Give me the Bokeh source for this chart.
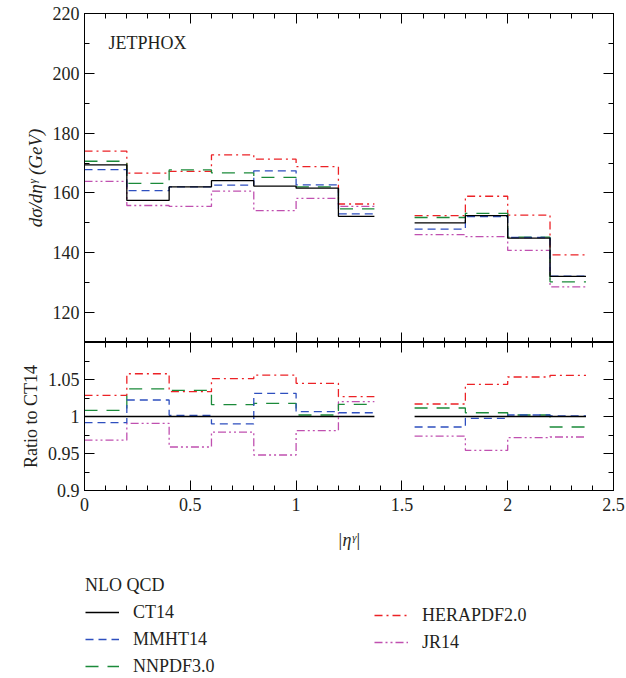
from bokeh.plotting import figure
from bokeh.models import (LinearAxis, FixedTicker, CustomJSTickFormatter, Range1d,
                          Label, Legend, LegendItem)
from bokeh.layouts import column
from bokeh.embed import file_html
from bokeh.resources import INLINE

# ---------------- data ----------------
bin_lo = [0.0, 0.2, 0.4, 0.6, 0.8, 1.0, 1.2, 1.56, 1.8, 2.0, 2.2]
bin_hi = [0.2, 0.4, 0.6, 0.8, 1.0, 1.2, 1.37, 1.8, 2.0, 2.2, 2.37]

series_names = ["CT14", "MMHT14", "NNPDF3.0", "HERAPDF2.0", "JR14"]

xsec_ct14 = [169.4, 157.5, 162.0, 164.1, 162.3, 161.6, 152.2, 150.0, 152.4, 144.9, 132.1]
xsec_mmht14 = [167.8, 160.8, 162.0, 162.6, 167.4, 162.7, 153.0, 147.9, 152.1, 145.1, 132.2]
xsec_nnpdf30 = [170.6, 163.2, 167.7, 166.7, 165.2, 162.0, 154.7, 151.8, 153.2, 145.2, 130.3]
xsec_herapdf20 = [174.0, 166.6, 167.2, 172.7, 171.3, 168.8, 156.3, 152.4, 158.9, 152.6, 139.3]
xsec_jr14 = [163.9, 155.8, 155.5, 160.6, 154.1, 158.2, 155.5, 146.1, 145.4, 140.8, 128.6]

ratio_ct14 = [1.0, 1.0, 1.0, 1.0, 1.0, 1.0, 1.0, 1.0, 1.0, 1.0, 1.0]
ratio_mmht14 = [0.9916, 1.0223, 1.0016, 0.9899, 1.0313, 1.0065, 1.0051, 0.9858, 0.9976, 1.002, 1.0007]
ratio_nnpdf30 = [1.0084, 1.0372, 1.0354, 1.016, 1.0178, 1.002, 1.0165, 1.0115, 1.0051, 1.002, 0.9858]
ratio_herapdf20 = [1.0286, 1.0578, 1.0335, 1.0511, 1.056, 1.0448, 1.0268, 1.0169, 1.0435, 1.0534, 1.0557]
ratio_jr14 = [0.968, 0.9908, 0.9588, 0.979, 0.948, 0.9808, 1.02, 0.9736, 0.9543, 0.9714, 0.9723]

top_yticks = [120, 140, 160, 180, 200, 220]
top_yminor = [110, 130, 150, 170, 190, 210]
bot_yticks = [0.9, 0.95, 1.0, 1.05]
bot_yminor = [0.925, 0.975, 1.025, 1.075]
x_ticks = [0, 0.5, 1, 1.5, 2, 2.5]
x_minor = [i / 10 for i in range(26)]

# ---------------- styles ----------------
FONT = "Liberation Serif"
FS = "18px"
TXT = "#231f20"
styles = {
    "CT14": dict(color="#000000", dash="solid", width=1.3),
    "MMHT14": dict(color="#2e4fbf", dash="8 5", width=1.3),
    "NNPDF3.0": dict(color="#1b8a3a", dash="13 9", width=1.3),
    "HERAPDF2.0": dict(color="#ec2226", dash="8 4 2 4", width=1.3),
    "JR14": dict(color="#c050b0", dash="8 3 2 3 2 3", width=1.3),
}


def step_path(lo, hi, vals):
    xs, ys = [], []
    for i, v in enumerate(vals):
        if i > 0 and abs(lo[i] - hi[i - 1]) > 1e-9:
            xs.append(float("nan"))
            ys.append(float("nan"))
        xs += [lo[i], hi[i]]
        ys += [v, v]
    return xs, ys


fmt = CustomJSTickFormatter(code="return Number(tick.toFixed(3)).toString();")
blank_fmt = CustomJSTickFormatter(code="return '';")


def make_axis(kind, ticks, minor, labels):
    ax = LinearAxis(ticker=FixedTicker(ticks=ticks, minor_ticks=minor),
                    formatter=fmt if labels else blank_fmt)
    ax.major_tick_in = 10
    ax.major_tick_out = 0
    ax.minor_tick_in = 5
    ax.minor_tick_out = 0
    ax.axis_line_color = "black"
    ax.major_tick_line_color = "black"
    ax.minor_tick_line_color = "black"
    ax.major_label_text_font = FONT
    ax.major_label_text_font_size = FS
    ax.major_label_text_color = TXT
    if not labels:
        ax.major_label_text_font_size = "0px"
        ax.major_label_standoff = 0
    else:
        ax.major_label_standoff = 5 if kind == "y" else 7
    return ax


def base_fig(height, xr, yr, bl, br, bt, bb):
    p = figure(width=626, height=height, x_range=xr, y_range=yr,
               output_backend="svg", toolbar_location=None,
               x_axis_location=None, y_axis_location=None,
               min_border_left=bl, min_border_right=br,
               min_border_top=bt, min_border_bottom=bb)
    p.outline_line_color = "black"
    p.outline_line_width = 1
    p.background_fill_color = "white"
    p.border_fill_color = "white"
    p.grid.grid_line_color = None
    return p


series_xsec = [xsec_ct14, xsec_mmht14, xsec_nnpdf30, xsec_herapdf20, xsec_jr14]
series_ratio = [ratio_ct14, ratio_mmht14, ratio_nnpdf30, ratio_herapdf20, ratio_jr14]
draw_order = [3, 4, 2, 1, 0]

# ---------------- top panel ----------------
p1 = base_fig(342, Range1d(0, 2.5), Range1d(110, 220), 84, 13, 13, 0)
yl1 = make_axis("y", top_yticks, top_yminor, True)
yl1.axis_label = "dσ/dηᵞ (GeV)"
yl1.axis_label_text_font = FONT
yl1.axis_label_text_font_size = "19px"
yl1.axis_label_text_font_style = "italic"
yl1.axis_label_text_color = TXT
yl1.axis_label_standoff = 4
p1.add_layout(yl1, "left")
p1.add_layout(make_axis("y", top_yticks, top_yminor, False), "right")
p1.add_layout(make_axis("x", x_ticks, x_minor, False), "below")
p1.add_layout(make_axis("x", x_ticks, x_minor, False), "above")

for i in draw_order:
    st = styles[series_names[i]]
    xs, ys = step_path(bin_lo, bin_hi, series_xsec[i])
    p1.line(xs, ys, line_color=st["color"], line_dash=st["dash"], line_width=st["width"])

p1.add_layout(Label(x=0.113, y=210.3, text="JETPHOX", text_font=FONT, text_font_size=FS,
                    text_color=TXT, text_baseline="middle", text_align="left"))

# ---------------- ratio panel ----------------
p2 = base_fig(218, Range1d(0, 2.5), Range1d(0.9, 1.1), 84, 13, 0, 70)
yl = make_axis("y", bot_yticks, bot_yminor, True)
yl.axis_label = "Ratio to CT14"
yl.axis_label_text_font = FONT
yl.axis_label_text_font_size = FS
yl.axis_label_text_font_style = "normal"
yl.axis_label_text_color = TXT
yl.axis_label_standoff = 4
p2.add_layout(yl, "left")
p2.add_layout(make_axis("y", bot_yticks, bot_yminor, False), "right")
xb = make_axis("x", x_ticks, x_minor, True)
xb.axis_label = "|ηᵞ|"
xb.axis_label_text_font = FONT
xb.axis_label_text_font_size = FS
xb.axis_label_text_font_style = "italic"
xb.axis_label_text_color = TXT
xb.axis_label_standoff = 16
p2.add_layout(xb, "below")
p2.add_layout(make_axis("x", x_ticks, x_minor, False), "above")

for i in draw_order:
    st = styles[series_names[i]]
    xs, ys = step_path(bin_lo, bin_hi, series_ratio[i])
    p2.line(xs, ys, line_color=st["color"], line_dash=st["dash"], line_width=st["width"])

# ---------------- legend panel ----------------
# renderers for the legend keys: the ratio series, kept outside this panel's visible range
p3 = figure(width=626, height=118, x_range=Range1d(0, 2.5), y_range=Range1d(0, 0.5),
            output_backend="svg", toolbar_location=None,
            x_axis_location=None, y_axis_location=None, min_border=0)
p3.outline_line_color = None
p3.grid.grid_line_color = None
p3.background_fill_color = "white"
p3.border_fill_color = "white"

leg_rends = {}
for i, name in enumerate(series_names):
    st = styles[name]
    xs, ys = step_path(bin_lo, bin_hi, series_ratio[i])
    leg_rends[name] = p3.line(xs, ys, line_color=st["color"], line_dash=st["dash"],
                              line_width=st["width"])


def style_legend(lg):
    lg.label_text_font = FONT
    lg.label_text_font_size = FS
    lg.label_text_color = TXT
    lg.title_text_font = FONT
    lg.title_text_font_size = FS
    lg.title_text_font_style = "normal"
    lg.title_text_color = TXT
    lg.title_standoff = 4
    lg.glyph_width = 34
    lg.glyph_height = 24
    lg.label_height = 24
    lg.label_standoff = 14
    lg.spacing = 3
    lg.padding = 0
    lg.margin = 0
    lg.border_line_alpha = 0
    lg.background_fill_alpha = 0


leg1 = Legend(items=[LegendItem(label=n, renderers=[leg_rends[n]]) for n in series_names[:3]],
              title="NLO QCD", location=(1, 0))
leg2 = Legend(items=[LegendItem(label=n, renderers=[leg_rends[n]]) for n in series_names[3:]],
              location=(290, 24))
style_legend(leg1)
style_legend(leg2)
p3.add_layout(leg1)
p3.add_layout(leg2)

layout = column(p1, p2, p3, spacing=0)
open("out.html", "w").write(file_html(layout, INLINE))
